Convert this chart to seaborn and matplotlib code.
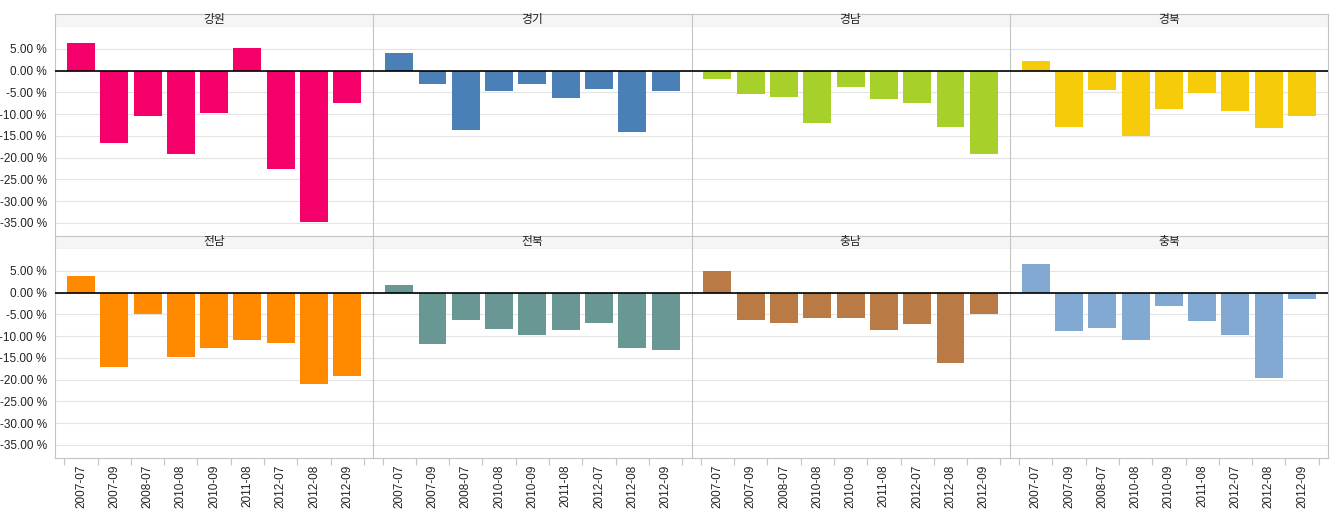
import matplotlib.pyplot as plt
import matplotlib.ticker as mticker
import pandas as pd
import seaborn as sns

# Data (percent change)
periods = ['2007-07', '2007-09', '2008-07', '2010-08', '2010-09',
           '2011-08', '2012-07', '2012-08', '2012-09']
regions = ['강원', '경기', '경남', '경북', '전남', '전북', '충남', '충북']

gangwon = [6.3, -16.7, -10.4, -19.2, -9.7, 5.1, -22.6, -34.8, -7.4]
gyeonggi = [4.0, -3.2, -13.6, -4.6, -3.2, -6.2, -4.2, -14.1, -4.6]
gyeongnam = [-2.0, -5.4, -6.1, -12.0, -3.8, -6.5, -7.4, -13.0, -19.2]
gyeongbuk = [2.1, -13.0, -4.5, -15.1, -8.8, -5.1, -9.3, -13.2, -10.4]
jeonnam = [3.8, -17.0, -4.9, -14.7, -12.7, -10.8, -11.5, -21.1, -19.1]
jeonbuk = [1.7, -11.8, -6.4, -8.3, -9.7, -8.7, -6.9, -12.7, -13.1]
chungnam = [5.0, -6.4, -6.9, -5.8, -5.8, -8.5, -7.2, -16.1, -5.0]
chungbuk = [6.6, -8.9, -8.1, -10.8, -3.2, -6.6, -9.7, -19.7, -1.4]

colors = ['#F5006A', '#4A80B6', '#A8D02A', '#F5CB0A',
          '#FF8A00', '#699793', '#B97A46', '#81A9D2']

values = [gangwon, gyeonggi, gyeongnam, gyeongbuk,
          jeonnam, jeonbuk, chungnam, chungbuk]

df = pd.DataFrame({
    'region': [r for r in regions for _ in periods],
    'period': periods * len(regions),
    'change': [v for vals in values for v in vals],
})

sns.set_style('white')
plt.rcParams['font.family'] = ['Liberation Sans', 'Noto Sans CJK KR', 'DejaVu Sans']

W, H = 1341, 514
fig = plt.figure(figsize=(W / 100, H / 100), dpi=100)

left_px, right_px = 55, 1328
panel_w = (right_px - left_px) / 4
rows = [(14, 27, 236), (236, 249, 458)]  # strip top, plot top, plot bottom

grid_c = '#e4e4e4'
line_c = '#c4c4c4'
fs = 8.5

for i, region in enumerate(regions):
    row, col = divmod(i, 4)
    s_top, p_top, p_bot = rows[row]
    x0 = (left_px + col * panel_w) / W
    w = panel_w / W

    # header strip
    sax = fig.add_axes([x0, (H - p_top) / H, w, (p_top - s_top) / H])
    sax.set_facecolor('#f5f5f5')
    sax.set_xticks([])
    sax.set_yticks([])
    for side in ['top', 'bottom', 'left', 'right']:
        sax.spines[side].set_color(line_c)
        sax.spines[side].set_linewidth(0.8)
    if col != 3:
        sax.spines['right'].set_visible(False)
    sax.text(0.5, 0.5, region, ha='center', va='center', fontsize=fs,
             transform=sax.transAxes, color='#222222')

    # panel
    ax = fig.add_axes([x0, (H - p_bot) / H, w, (p_bot - p_top) / H])
    sub = df[df['region'] == region]
    sns.barplot(data=sub, x='period', y='change', order=periods,
                color=colors[i], saturation=1, width=0.84, ax=ax)
    for p in ax.patches:
        p.set_edgecolor('none')

    ax.set_ylim(-38, 10)
    ax.set_xlim(-0.78, 8.78)
    ax.set_yticks(range(5, -40, -5))
    ax.yaxis.grid(True, color=grid_c, linewidth=0.8)
    ax.set_axisbelow(True)
    ax.axhline(0, color='black', linewidth=1.2, zorder=3)
    ax.set_xlabel('')
    ax.set_ylabel('')

    for side in ['top', 'right']:
        ax.spines[side].set_visible(False)
    ax.spines['left'].set_color(line_c)
    ax.spines['left'].set_linewidth(0.8)
    if col == 3:
        ax.spines['right'].set_visible(True)
        ax.spines['right'].set_color(line_c)
        ax.spines['right'].set_linewidth(0.8)
    if row == 1:
        ax.spines['bottom'].set_color(line_c)
        ax.spines['bottom'].set_linewidth(0.8)
        ax.set_xticks(range(len(periods)))
        ax.set_xticklabels(periods, rotation=90, fontsize=fs, color='#222222')
        ax.xaxis.set_minor_locator(mticker.FixedLocator(
            [k - 0.5 for k in range(len(periods) + 1)]))
        ax.tick_params(axis='x', which='major', length=0, pad=5)
        ax.tick_params(axis='x', which='minor', length=5, color=line_c,
                       width=0.8, bottom=True)
    else:
        ax.spines['bottom'].set_visible(False)
        ax.set_xticks([])

    if col == 0:
        ax.yaxis.set_major_formatter(
            mticker.FuncFormatter(lambda v, _: f'{v:.2f} %'))
        ax.tick_params(axis='y', length=0, labelsize=fs, pad=6,
                       labelcolor='#222222')
    else:
        ax.tick_params(axis='y', length=0, labelleft=False)

fig.savefig('out.png', dpi=100)
